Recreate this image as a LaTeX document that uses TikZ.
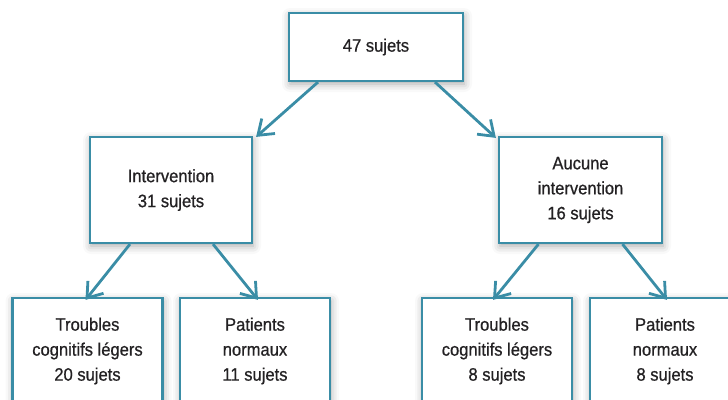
\documentclass[tikz,border=0pt]{standalone}
\usepackage{fontspec}
\setsansfont{Liberation Sans}[FakeStretch=0.92, FakeBold=0.7]
\usepackage{tikz}
\usetikzlibrary{arrows.meta,positioning,shadows.blur}
\definecolor{boxteal}{RGB}{58,141,166}
\definecolor{textgray}{RGB}{35,33,35}

\begin{document}
\begin{tikzpicture}[
        x=1pt, y=-1pt,
        % Soft shadow and thin teal frame, as in the printed flowchart.
        box/.style={rectangle, draw=boxteal, line width=2.2pt, fill=white,
            text=textgray, inner sep=0pt,
            minimum width=#1,
            align=center, font=\sffamily\fontsize{18}{25}\selectfont,
            blur shadow={shadow xshift=1pt, shadow yshift=-3pt,
                shadow blur radius=8pt, shadow opacity=35}},
        arr/.style={draw=boxteal, line width=2.8pt,
            -{Straight Barb[length=14pt, width=20pt, line width=2.8pt]}}
    ]
        \useasboundingbox (0,0) rectangle (728,399);
        \clip (0,0) rectangle (728,399);

        \node[box=174pt, minimum height=68pt] (total) at (376,47) {47 sujets};
        \node[box=162pt, minimum height=106pt] (interv) at (171,190) {Intervention\\31 sujets};
        \node[box=163pt, minimum height=106pt] (aucune) at (580.5,190) {Aucune\\intervention\\16 sujets};

        \node[box=150pt, minimum height=106pt] (tclA) at (87.5,351) {Troubles\\cognitifs légers\\20 sujets};
        \node[box=150pt, minimum height=106pt] (normA) at (255,351) {Patients\\normaux\\11 sujets};
        \node[box=150pt, minimum height=106pt] (tclB) at (497,351) {Troubles\\cognitifs légers\\8 sujets};
        \node[box=150pt, minimum height=106pt] (normB) at (665,351) {Patients\\normaux\\8 sujets};

        % Connections
        \draw[arr] ([xshift=-58pt]total.south) -- ([shift={(3pt,-1pt)}]interv.north east);
        \draw[arr] ([xshift=59pt]total.south) -- ([shift={(-2pt,-2pt)}]aucune.north west);
        \draw[arr] ([xshift=-41pt]interv.south) -- ([shift={(-2pt,-3pt)}]tclA.north);
        \draw[arr] ([xshift=42pt]interv.south) -- ([shift={(3pt,-3pt)}]normA.north);
        \draw[arr] ([xshift=-42pt]aucune.south) -- ([shift={(-4pt,-3pt)}]tclB.north);
        \draw[arr] ([xshift=42pt]aucune.south) -- ([shift={(2pt,-3pt)}]normB.north);
    \end{tikzpicture}
\end{document}
